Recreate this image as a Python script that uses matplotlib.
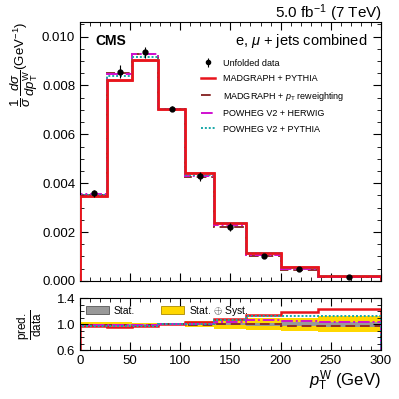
import matplotlib
matplotlib.use("Agg")
import matplotlib.pyplot as plt
from matplotlib.ticker import MultipleLocator, FixedLocator
from matplotlib.patches import Patch
from matplotlib.lines import Line2D
import numpy as np

plt.rcParams['font.family'] = ['Liberation Sans', 'DejaVu Sans']
plt.rcParams['mathtext.fontset'] = 'custom'
plt.rcParams['mathtext.rm'] = 'Liberation Sans'
plt.rcParams['mathtext.it'] = 'Liberation Sans:italic'
plt.rcParams['mathtext.bf'] = 'Liberation Sans:bold'

# bin edges of pT(W) in GeV
edges = [0, 27, 52, 78, 105, 134, 166, 200, 237, 300]

# normalised differential cross section (GeV^-1)
data = [0.00358, 0.00857, 0.00935, 0.00705, 0.00428, 0.00220, 0.00101, 0.00047, 0.000165]
stat_rel = [0.010, 0.010, 0.008, 0.005, 0.010, 0.015, 0.020, 0.030, 0.040]
tot_rel = [0.040, 0.030, 0.025, 0.015, 0.045, 0.070, 0.090, 0.100, 0.120]

mg_pythia = [0.00346, 0.00822, 0.00905, 0.00705, 0.00442, 0.00238, 0.00116, 0.00056, 0.000203]
mg_reweight = [0.00353, 0.00849, 0.00930, 0.00705, 0.00424, 0.00220, 0.00101, 0.00046, 0.000160]
powheg_herwig = [0.00354, 0.00848, 0.00930, 0.00705, 0.00428, 0.00229, 0.00107, 0.00049, 0.000170]
powheg_pythia = [0.00351, 0.00840, 0.00916, 0.00705, 0.00432, 0.00235, 0.00114, 0.00053, 0.000185]

labels = ["MADGRAPH + PYTHIA",
          "MADGRAPH + $p_{\\mathrm{T}}$ reweighting",
          "POWHEG V2 + HERWIG",
          "POWHEG V2 + PYTHIA"]
colors = ["#e8141c", "#8b2e2e", "#d010d0", "#18a8a8"]
styles = ["-", (0, (5, 2.5)), (0, (6, 1.5, 1, 1.5)), (0, (1, 1))]
widths = [1.8, 1.4, 1.4, 1.4]
preds = [mg_pythia, mg_reweight, powheg_herwig, powheg_pythia]

edges_a = np.array(edges)
centers = 0.5 * (edges_a[1:] + edges_a[:-1])
data_a = np.array(data)

fig = plt.figure(figsize=(3.99, 3.99), dpi=100)
ax = fig.add_axes([0.2005, 0.296, 0.754, 0.649])
rax = fig.add_axes([0.2005, 0.1216, 0.754, 0.1314])

# main panel
for p, c, ls, lw in zip(preds, colors, styles, widths):
    ax.stairs(p, edges, color=c, linestyle=ls, linewidth=lw)
ax.stairs(mg_pythia, edges, color=colors[0], linewidth=1.8, zorder=3)
ax.errorbar(centers, data, yerr=data_a * np.array(tot_rel), fmt="o", color="black",
            markersize=3.5, elinewidth=0.8, capsize=0, zorder=5)

ax.set_xlim(0, 300)
ax.set_ylim(0, 0.0106)
ax.yaxis.set_major_locator(MultipleLocator(0.002))
ax.yaxis.set_minor_locator(MultipleLocator(0.0005))
ax.xaxis.set_major_locator(MultipleLocator(50))
ax.xaxis.set_minor_locator(MultipleLocator(10))
ax.tick_params(which="both", direction="in", top=True, right=True, labelsize=9.5)
ax.tick_params(which="major", length=6)
ax.tick_params(which="minor", length=3)
ax.tick_params(axis="x", labelbottom=False)
ax.yaxis.set_major_formatter(plt.FuncFormatter(lambda v, pos: "%.3f" % v))
ax.set_ylabel(r"$\dfrac{1}{\sigma}\,\dfrac{d\sigma}{d p_{\mathrm{T}}^{\mathrm{W}}}$(GeV$^{-1}$)",
              fontsize=9.5, loc="top", labelpad=1)

ax.text(0.05, 0.955, "CMS", transform=ax.transAxes, fontsize=10, fontweight="bold",
        ha="left", va="top")
ax.text(0.955, 0.96, "e, $\\mu$ + jets combined", transform=ax.transAxes, fontsize=10.5,
        ha="right", va="top")
fig.text(0.957, 0.967, "5.0 fb$^{-1}$ (7 TeV)", fontsize=11, ha="right", va="center")

handles = [ax.errorbar([], [], yerr=[], fmt="o", color="black", markersize=3, elinewidth=0.8)]
for c, ls, lw in zip(colors, styles, widths):
    handles.append(Line2D([], [], color=c, linestyle=ls, linewidth=lw))
ax.legend(handles, ["Unfolded data"] + labels, loc="upper left",
          bbox_to_anchor=(0.375, 0.89), frameon=False, fontsize=6.5,
          handlelength=1.6, handletextpad=0.8, labelspacing=0.72)

# ratio panel
stat_a = np.array(stat_rel)
tot_a = np.array(tot_rel)
rax.stairs(1 + tot_a, edges, baseline=1 - tot_a, fill=True, color="#ffd700", linewidth=0)
rax.stairs(1 + stat_a, edges, baseline=1 - stat_a, fill=True, color="#999999", linewidth=0)
for p, c, ls, lw in zip(preds, colors, styles, widths):
    rax.stairs(np.array(p) / data_a, edges, color=c, linestyle=ls, linewidth=lw)

rax.set_xlim(0, 300)
rax.set_ylim(0.6, 1.4)
rax.yaxis.set_major_locator(FixedLocator([0.6, 1.0, 1.4]))
rax.yaxis.set_minor_locator(MultipleLocator(0.1))
rax.xaxis.set_major_locator(MultipleLocator(50))
rax.xaxis.set_minor_locator(MultipleLocator(10))
rax.tick_params(which="both", direction="in", top=True, right=True, labelsize=9.5)
rax.tick_params(which="major", length=6)
rax.tick_params(which="minor", length=3)
rax.set_ylabel(r"$\dfrac{\mathrm{pred.}}{\mathrm{data}}$", fontsize=8.5, labelpad=9)
rax.set_xlabel(r"$p_{\mathrm{T}}^{\mathrm{W}}$ (GeV)", fontsize=12, loc="right", labelpad=1)

band_handles = [Patch(facecolor="#999999", edgecolor="#555555", linewidth=0.6),
                Patch(facecolor="#ffd700", edgecolor="#aa8800", linewidth=0.6)]
rax.legend(band_handles, ["Stat.", "Stat. $\\oplus$ Syst."], loc="upper left", ncol=2,
           frameon=False, fontsize=7.5, handlelength=2.2, handleheight=0.8,
           columnspacing=2.5, borderaxespad=0.15, handletextpad=0.5)

fig.savefig("out.png", dpi=100)
